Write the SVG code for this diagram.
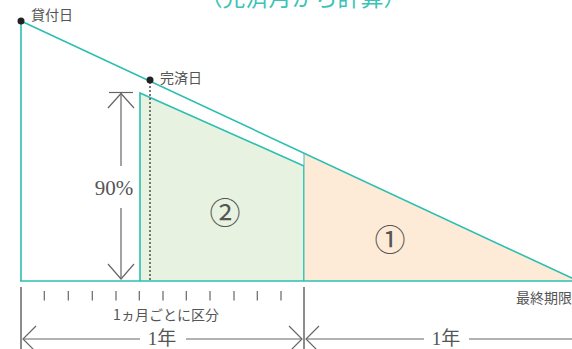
<svg xmlns="http://www.w3.org/2000/svg" width="572" height="349" viewBox="0 0 572 349">
<style>
.teal{stroke:#2cbfb1;stroke-width:1.6;fill:none}
.gray{stroke:#666;stroke-width:1.2;fill:none}
.lbl{font-family:"Noto Sans CJK JP","Noto Sans",sans-serif;font-size:14px;fill:#555}
.ser{font-family:"Liberation Serif","Noto Sans CJK JP",serif;fill:#555}
</style>
<rect width="572" height="349" fill="#fff"/>
<text x="303" y="6" text-anchor="middle" font-family="Noto Sans CJK JP,sans-serif" font-size="23" fill="#3cc3b5">（完済月から計算）</text>
<g id="region2">
<polygon points="140,93 304,166 304,281 140,281" fill="#e7f2e1"/>
<polyline class="teal" points="140,281 140,93 304,166 304,281"/>
</g>
<g id="region1">
<polygon points="304,153 578,281 304,281" fill="#fdebd7"/>
<line class="teal" x1="304" y1="153" x2="304" y2="281" stroke-opacity="0.6" stroke-width="2.5"/>
</g>
<g id="frame">
<line class="teal" x1="21" y1="21" x2="21" y2="281"/>
<line class="teal" x1="21" y1="21" x2="578" y2="281"/>
<line class="teal" x1="20" y1="281" x2="572" y2="281" stroke-width="2"/>
</g>
<g id="lend">
<circle cx="21" cy="21" r="3.5" fill="#222"/>
<text class="lbl" x="31" y="20">貸付日</text>
</g>
<g id="repaid">
<line x1="150" y1="82" x2="150" y2="281" stroke="#444" stroke-width="1.4" stroke-dasharray="2,2"/>
<circle cx="150" cy="80" r="3.5" fill="#222"/>
<text class="lbl" x="160" y="83">完済日</text>
</g>
<g id="label1"><text class="ser" x="390" y="251" font-size="31" text-anchor="middle">①</text></g>
<g id="label2"><text class="ser" x="225" y="224" font-size="31" text-anchor="middle">②</text></g>
<g id="connectors">
<line class="gray" x1="109" y1="92.5" x2="133" y2="92.5"/>
<line class="gray" x1="121" y1="93" x2="121" y2="166"/>
<line class="gray" x1="121" y1="208" x2="121" y2="279"/>
<polyline class="gray" points="108,108 121,93.5 134,108"/>
<polyline class="gray" points="108,264 121,279 134,264"/>
<text class="ser" x="114" y="195" font-size="21" text-anchor="middle">90%</text>
<g class="gray">
<line x1="44.3" y1="291" x2="44.3" y2="300.5"/>
<line x1="68.3" y1="291" x2="68.3" y2="300.5"/>
<line x1="92.3" y1="291" x2="92.3" y2="300.5"/>
<line x1="116" y1="291" x2="116" y2="300.5"/>
<line x1="139.3" y1="291" x2="139.3" y2="300.5"/>
<line x1="163" y1="291" x2="163" y2="300.5"/>
<line x1="186.3" y1="291" x2="186.3" y2="300.5"/>
<line x1="210" y1="291" x2="210" y2="300.5"/>
<line x1="234" y1="291" x2="234" y2="300.5"/>
<line x1="257.3" y1="291" x2="257.3" y2="300.5"/>
<line x1="281" y1="291" x2="281" y2="300.5"/>
<line x1="21" y1="287" x2="21" y2="349" stroke-width="1.5"/>
<line x1="304" y1="287" x2="304" y2="349" stroke-width="1.5"/>
</g>
<text class="lbl" x="166" y="320" text-anchor="middle" font-size="13">1ヵ月ごとに区分</text>
<line class="gray" x1="23" y1="339" x2="140" y2="339"/>
<line class="gray" x1="186" y1="339" x2="302" y2="339"/>
<polyline class="gray" points="36,326 23,339 36,352"/>
<polyline class="gray" points="289,326 302,339 289,352"/>
<text class="ser" x="162" y="345" font-size="19" text-anchor="middle">1年</text>
<line class="gray" x1="306" y1="339" x2="424" y2="339"/>
<line class="gray" x1="469" y1="339" x2="572" y2="339"/>
<polyline class="gray" points="319,326 306,339 319,352"/>
<text class="ser" x="446" y="345" font-size="19" text-anchor="middle">1年</text>
<text class="lbl" x="516" y="303" font-size="14.5">最終期限</text>
</g>
</svg>
